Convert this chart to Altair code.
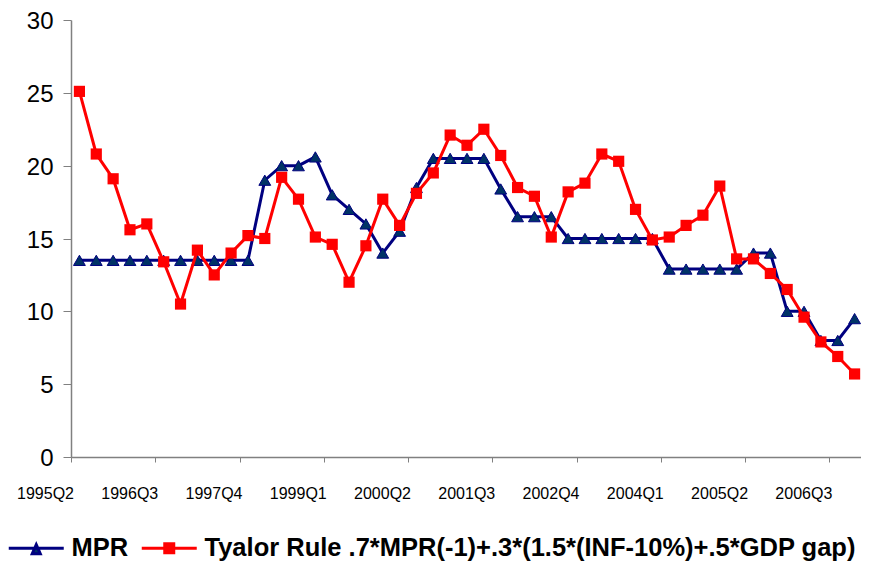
import altair as alt
import pandas as pd

# Categories: quarters 1995Q2 .. 2006Q4
quarters = [f"{1995 + (i + 1) // 4}Q{(i + 1) % 4 + 1}" for i in range(47)]
label_every = 5

series_names = ["MPR", "Tyalor Rule .7*MPR(-1)+.3*(1.5*(INF-10%)+.5*GDP gap)"]

mpr = [13.5, 13.5, 13.5, 13.5, 13.5, 13.5, 13.5, 13.5, 13.5, 13.5, 13.5,
       19.0, 20.0, 20.0, 20.6, 18.0, 17.0, 16.0, 14.0, 15.5, 18.5,
       20.5, 20.5, 20.5, 20.5, 18.4, 16.5, 16.5, 16.5,
       15.0, 15.0, 15.0, 15.0, 15.0, 15.0,
       12.9, 12.9, 12.9, 12.9, 12.9,
       14.0, 14.0, 10.0, 10.0, 8.0, 8.0, 9.5]

taylor = [25.1, 20.8, 19.1, 15.6, 16.0, 13.4, 10.5, 14.2, 12.5, 14.0,
          15.2, 15.0, 19.2, 17.7, 15.1, 14.6, 12.0, 14.5, 17.7, 15.9,
          18.1, 19.5, 22.1, 21.4, 22.5, 20.7, 18.5, 17.9, 15.1, 18.2,
          18.8, 20.8, 20.3, 17.0, 14.9, 15.1, 15.9, 16.6, 18.6, 13.6,
          13.6, 12.6, 11.5, 9.6, 7.9, 6.9, 5.7]

y_ticks = [0, 5, 10, 15, 20, 25, 30]

rows = []
for name, vals in zip(series_names, [mpr, taylor]):
    for i, v in enumerate(vals):
        rows.append({"idx": i, "quarter": quarters[i], "series": name, "value": v})
df = pd.DataFrame(rows)

labels_js = "[" + ",".join(f"'{q}'" for q in quarters) + "]"
x_tick_vals = [k - 0.5 for k in range(0, len(quarters) - 1, label_every)]

x_axis = alt.Axis(
    values=x_tick_vals,
    labelExpr=f"{labels_js}[round(datum.value + 0.5)]",
    title=None, grid=False,
    domainColor="#808080", tickColor="#808080", tickSize=5, domainWidth=1.5,
    labelFont="Liberation Sans", labelFontSize=16, labelColor="#000000",
    labelOffset=-26, labelPadding=23, labelOverlap=False, labelFlush=False,
)
y_axis = alt.Axis(
    values=y_ticks, title=None, grid=False,
    domainColor="#808080", tickColor="#808080", tickSize=8, domainWidth=1.5,
    labelFont="Liberation Sans", labelFontSize=24, labelColor="#000000",
    labelPadding=10, labelOffset=1.5, labelFlush=False,
)

base = alt.Chart(df).encode(
    x=alt.X("idx:Q", scale=alt.Scale(domain=[-0.5, 46.38], nice=False, zero=False), axis=x_axis),
    y=alt.Y("value:Q", scale=alt.Scale(domain=[0, 30], nice=False), axis=y_axis),
)

is_mpr = alt.datum.series == series_names[0]
is_tr = alt.datum.series == series_names[1]

line_mpr = base.transform_filter(is_mpr).mark_line(color="#000080", strokeWidth=3)
pts_mpr = base.transform_filter(is_mpr).mark_point(
    shape="triangle-up", filled=True, fill="#003366", stroke="#000080",
    strokeWidth=1, size=140, opacity=1)
line_tr = base.transform_filter(is_tr).mark_line(color="#FF0000", strokeWidth=3)
pts_tr = base.transform_filter(is_tr).mark_point(
    shape="square", filled=True, color="#FF0000", size=125, opacity=1)

tri_path = "M-2.75,0H2.75M0,-0.35L0.4,0.55H-0.4Z"
sq_path = "M-2.75,0H2.75M-0.45,-0.45H0.45V0.45H-0.45Z"

leg = alt.Legend(
    orient="none", legendX=-47.5, legendY=515, direction="horizontal",
    title=None, symbolSize=400, symbolStrokeWidth=3,
    labelFont="Liberation Sans", labelFontSize=25.5, labelFontWeight="bold",
    labelColor="#000000", labelOffset=22.5, columnPadding=7, padding=0,
    labelLimit=1000, symbolOpacity=1,
)

legend_layer = base.transform_filter("false").mark_point(filled=True, opacity=1, strokeWidth=3).encode(
    shape=alt.Shape("series:N", scale=alt.Scale(domain=series_names, range=[tri_path, sq_path]), legend=leg),
    fill=alt.Fill("series:N", scale=alt.Scale(domain=series_names, range=["#003366", "#FF0000"]), legend=leg),
    stroke=alt.Stroke("series:N", scale=alt.Scale(domain=series_names, range=["#000080", "#FF0000"]), legend=leg),
)

chart = alt.layer(line_mpr, pts_mpr, line_tr, pts_tr, legend_layer).properties(
    width=790, height=437,
    padding={"left": 63, "top": 12, "right": 0, "bottom": 106},
    autosize=alt.AutoSizeParams(type="none"),
    background="white",
).configure_view(stroke=None)

chart.save("out.html", embed_options={"renderer": "svg", "actions": False})
